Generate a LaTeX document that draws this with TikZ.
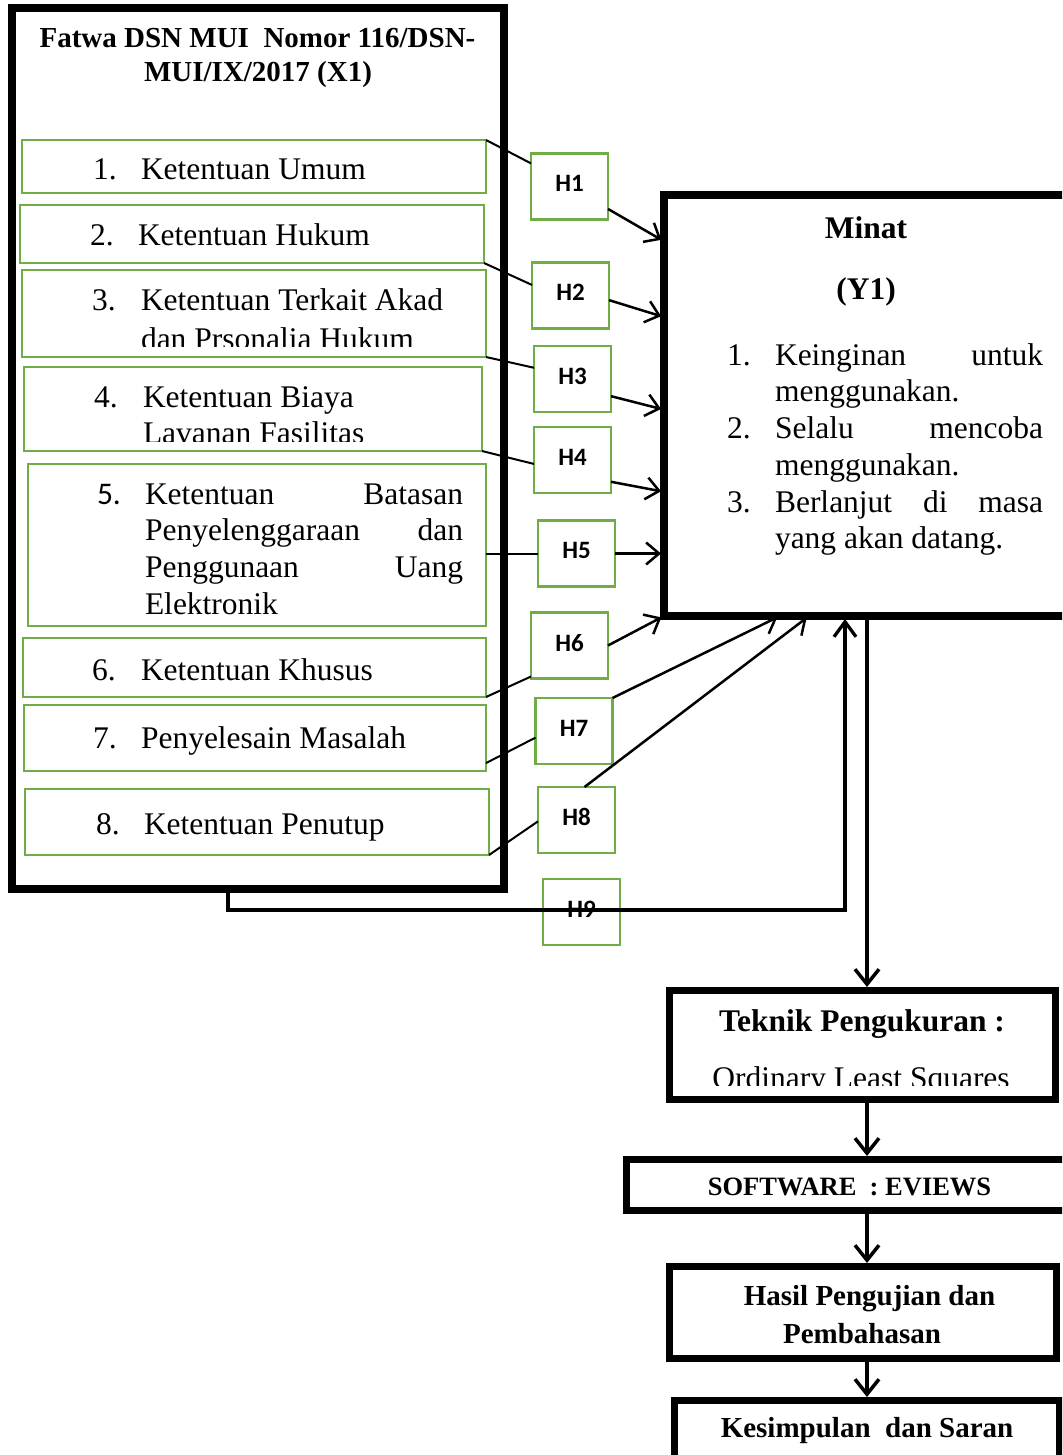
\documentclass[tikz,border=0pt]{standalone}
\usepackage{fontspec}
\setmainfont{Liberation Serif}
\newfontfamily\calfont{Carlito}
\usetikzlibrary{arrows.meta,calc}
\definecolor{gboxc}{HTML}{70AD47}
\begin{document}
\begin{tikzpicture}[x=1pt,y=-1pt,
  blackbox/.style={draw=black, inner sep=0pt, outer sep=0pt, fill=white},
  greenbox/.style={draw=gboxc, line width=2.7pt, inner sep=0pt, outer sep=0pt, fill=white},
  hbox/.style={greenbox, minimum width=77pt, minimum height=66pt, font=\calfont\bfseries\fontsize{25}{25}\selectfont, text depth=6pt},
  body/.style={inner sep=0pt, outer sep=0pt, font=\fontsize{31.5}{36}\selectfont},
  bbody/.style={inner sep=0pt, outer sep=0pt, font=\bfseries\fontsize{31.5}{36}\selectfont},
  bmid/.style={inner sep=0pt, outer sep=0pt, font=\bfseries\fontsize{29}{33}\selectfont},
  bsmall/.style={inner sep=0pt, outer sep=0pt, font=\bfseries\fontsize{26.5}{30}\selectfont},
  calnum/.style={inner sep=0pt, outer sep=0pt, font=\calfont\fontsize{31.5}{36}\selectfont},
  thinline/.style={draw=black, line width=2pt},
  harrow/.style={draw=black, line width=2.5pt, -{Straight Barb[length=13pt,width=22pt]}, shorten >=3pt},
  flow/.style={draw=black, line width=3.5pt, -{Straight Barb[length=15pt,width=24pt]}, shorten >=3pt},
  hnine/.style={draw=black, line width=3.3pt, -{Straight Barb[length=15pt,width=22pt]}, shorten >=3pt}
]
\useasboundingbox (0,0) rectangle (1062,1455);
\fill[white] (0,0) rectangle (1062,1455);
\begin{scope}
\clip (0,0) rectangle (1062,1455);

% ---------- left big box ----------
\node[blackbox, line width=8.5pt, minimum width=492pt, minimum height=881pt] (X1) at (258,448.5) {};
\node[bmid, anchor=base] (tt1) at (257.5,48) {Fatwa DSN MUI\ \ Nomor 116/DSN-};
\node[bmid, anchor=base] (tt2) at (258,82) {MUI/IX/2017 (X1)};

% item boxes
\node[greenbox, minimum width=464pt, minimum height=53pt] (I1) at (254,166.5) {};
\node[greenbox, minimum width=464pt, minimum height=58pt] (I2) at (252,234) {};
\node[greenbox, minimum width=464pt, minimum height=87pt] (I3) at (254,313.5) {};
\node[greenbox, minimum width=458pt, minimum height=84pt] (I4) at (253,409) {};
\node[greenbox, minimum width=458pt, minimum height=162pt] (I5) at (257,545) {};
\node[greenbox, minimum width=463pt, minimum height=59pt] (I6) at (254.5,667.5) {};
\node[greenbox, minimum width=462pt, minimum height=66pt] (I7) at (255,738) {};
\node[greenbox, minimum width=464pt, minimum height=66pt] (I8) at (257,822) {};

% item texts
\node[body, anchor=base west] (n1) at (93,180) {1.};
\node[body, anchor=base west] (t1) at (141,180) {Ketentuan Umum};
\node[body, anchor=base west] (n2) at (90,245) {2.};
\node[body, anchor=base west] (t2) at (138,245) {Ketentuan Hukum};
\node[body, anchor=base west] (n3) at (92,310) {3.};
\node[body, anchor=base west] (t3a) at (141,310) {Ketentuan Terkait Akad};
\begin{scope}
\clip (100,318) rectangle (480,346);
\node[body, anchor=base west] (t3b) at (141,349) {dan Prsonalia Hukum};
\end{scope}
\node[body, anchor=base west] (n4) at (94,407) {4.};
\node[body, anchor=base west] (t4a) at (143,407) {Ketentuan Biaya};
\begin{scope}
\clip (100,414) rectangle (480,441);
\node[body, anchor=base west] (t4b) at (143,443) {Lavanan Fasilitas};
\end{scope}
\node[calnum, anchor=base west] (n5) at (97,504) {5.};
\node[body, anchor=base west] (t5a) at (145,504) {\hbox to 318pt{Ketentuan\hfill Batasan}};
\node[body, anchor=base west] (t5b) at (145,540) {\hbox to 318pt{Penyelenggaraan\hfill dan}};
\node[body, anchor=base west] (t5c) at (145,577) {\hbox to 318pt{Penggunaan\hfill Uang}};
\node[body, anchor=base west] (t5d) at (145,614) {Elektronik};
\node[body, anchor=base west] (n6) at (92,680) {6.};
\node[body, anchor=base west] (t6) at (141,680) {Ketentuan Khusus};
\node[body, anchor=base west] (n7) at (93,748) {7.};
\node[body, anchor=base west] (t7) at (141,748) {Penyelesain Masalah};
\node[body, anchor=base west] (n8) at (96,834) {8.};
\node[body, anchor=base west] (t8) at (144,834) {Ketentuan Penutup};

% ---------- H boxes ----------
\node[hbox] (H1) at (569.5,186.5) {H1};
\node[hbox] (H2) at (570.5,295.5) {H2};
\node[hbox] (H3) at (572.5,379) {H3};
\node[hbox] (H4) at (572.5,460) {H4};
\node[hbox] (H5) at (576.5,553.5) {H5};
\node[hbox] (H6) at (569.5,645.5) {H6};
\node[hbox] (H7) at (574,731) {H7};
\node[hbox] (H8) at (576.5,820) {H8};
\node[hbox] (H9) at (581.5,912) {H9};

% ---------- Minat box ----------
\node[blackbox, line width=8pt, minimum width=431pt, minimum height=421pt] (M) at (879.5,405.5) {};
\node[bbody, anchor=base] (mt) at (866,239) {Minat};
\node[bbody, anchor=base] (my) at (866,299) {(Y1)};
\node[body, anchor=base west] (mn1) at (727,365) {1.};
\node[body, anchor=base west] (ml1) at (775,365) {\hbox to 268pt{Keinginan\hfill untuk}};
\node[body, anchor=base west] (ml2) at (775,401) {menggunakan.};
\node[body, anchor=base west] (mn2) at (727,438) {2.};
\node[body, anchor=base west] (ml3) at (775,438) {\hbox to 268pt{Selalu\hfill mencoba}};
\node[body, anchor=base west] (ml4) at (775,475) {menggunakan.};
\node[body, anchor=base west] (mn3) at (727,512) {3.};
\node[body, anchor=base west] (ml5) at (775,512) {\hbox to 268pt{Berlanjut\hfill di\hfill masa}};
\node[body, anchor=base west] (ml6) at (775,548) {yang akan datang.};

% ---------- flow boxes ----------
\node[blackbox, line width=7pt, minimum width=386pt, minimum height=109pt] (T) at (862,1044.5) {};
\node[bbody, anchor=base] (tk1) at (862,1031) {Teknik Pengukuran :};
\begin{scope}
\clip (680,1050) rectangle (1045,1085);
\node[body, anchor=base] (tk2) at (861,1088) {Ordinary Least Squares};
\end{scope}
\node[blackbox, line width=7pt, minimum width=469pt, minimum height=51pt] (S) at (860.5,1184.5) {};
\node[bsmall, anchor=base] (sw) at (849.5,1195) {SOFTWARE\ \ : EVIEWS};
\node[blackbox, line width=7pt, minimum width=387pt, minimum height=92pt] (R) at (862.5,1312) {};
\node[bmid, anchor=base] (rh1) at (869.5,1305) {Hasil Pengujian dan};
\node[bmid, anchor=base] (rh2) at (862,1343) {Pembahasan};
\node[blackbox, line width=7pt, minimum width=385pt, minimum height=90pt] (K) at (866.5,1445) {};
\node[bmid, anchor=base] (ks) at (867,1437) {Kesimpulan\ \ dan Saran};

% ---------- connectors: items -> H ----------
\draw[thinline] (I1.north east) -- ($(H1.north west)!0.15!(H1.south west)$);
\draw[thinline] (I2.south east) -- ($(H2.north west)!0.34!(H2.south west)$);
\draw[thinline] (I3.south east) -- ($(H3.north west)!0.33!(H3.south west)$);
\draw[thinline] (I4.south east) -- ($(H4.north west)!0.56!(H4.south west)$);
\draw[thinline] (I5.east |- H5.west) -- (H5.west);
\draw[thinline] (I6.south east) -- ($(H6.north west)!0.97!(H6.south west)$);
\draw[thinline] ($(I7.north east)!0.88!(I7.south east)$) -- ($(H7.north west)!0.6!(H7.south west)$);
\draw[thinline] (I8.south east) -- ($(H8.north west)!0.52!(H8.south west)$);

% ---------- H -> Minat ----------
\draw[harrow] ($(H1.north east)!0.84!(H1.south east)$) -- ($(M.north west)!0.11!(M.south west)$);
\draw[harrow] ($(H2.north east)!0.57!(H2.south east)$) -- ($(M.north west)!0.29!(M.south west)$);
\draw[harrow] ($(H3.north east)!0.76!(H3.south east)$) -- ($(M.north west)!0.51!(M.south west)$);
\draw[harrow] ($(H4.north east)!0.83!(H4.south east)$) -- ($(M.north west)!0.705!(M.south west)$);
\draw[harrow] (H5.east) -- (M.west |- H5.east);
\draw[harrow] (H6.east) -- (M.south west);
\draw[harrow] (H7.north east) -- ($(M.south west)+(116,0)$);
\draw[harrow] ($(H8.north)+(8,0)$) -- ($(M.south west)+(145,0)$);
\draw[hnine] ($(X1.south west)+(216,0)$) -- ++(0,21) -| ($(M.south west)+(181,0)$);

% ---------- flow ----------
\coordinate (axis) at (867,0);
\draw[flow] (M.south -| axis) -- (T.north -| axis);
\draw[flow] (T.south -| axis) -- (S.north -| axis);
\draw[flow] (S.south -| axis) -- (R.north -| axis);
\draw[flow] (R.south -| axis) -- (K.north -| axis);
\end{scope}
\end{tikzpicture}
\end{document}
